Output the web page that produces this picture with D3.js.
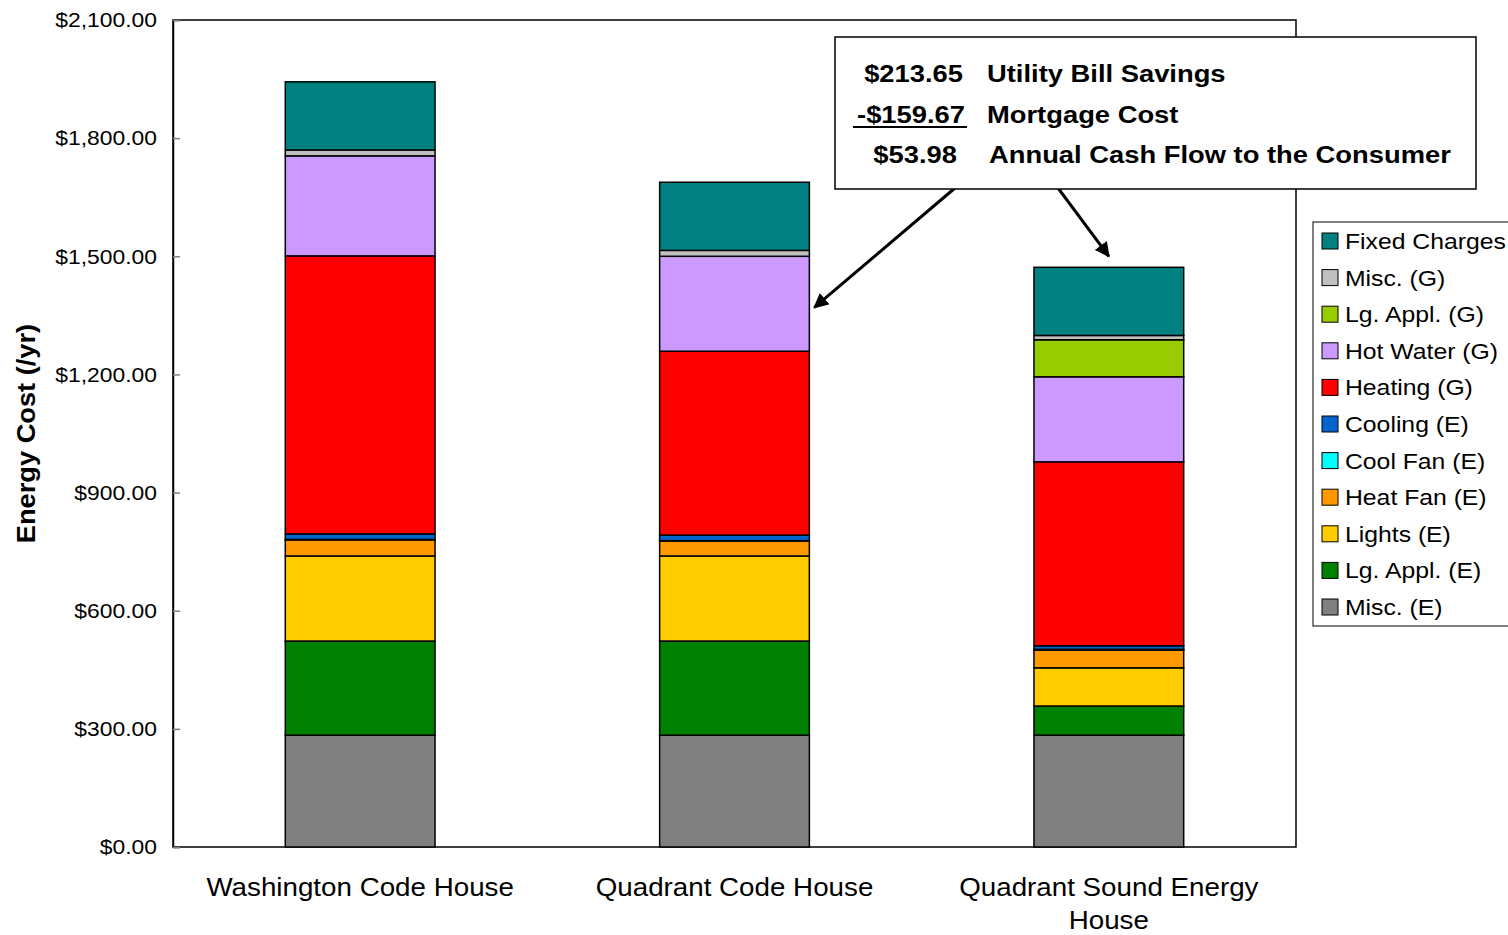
<!DOCTYPE html>
<html>
<head>
<meta charset="utf-8">
<script src="https://cdn.jsdelivr.net/npm/d3@7"></script>
<style>
  body { margin: 0; background: #fff; }
  svg { font-family: "Liberation Sans", Arial, sans-serif; }
</style>
</head>
<body>
<svg id="chart" width="1508" height="935"></svg>
<script>
// categories (houses)
const houses = ['Washington Code House', 'Quadrant Code House', 'Quadrant Sound Energy House'];

// series, bottom of stack first
const seriesNames = ['Misc. (E)', 'Lg. Appl. (E)', 'Lights (E)', 'Heat Fan (E)', 'Cool Fan (E)',
    'Cooling (E)', 'Heating (G)', 'Hot Water (G)', 'Lg. Appl. (G)', 'Misc. (G)', 'Fixed Charges'];
const seriesColors = ['#808080', '#008000', '#FFCC00', '#FF9900', '#00FFFF',
    '#0066CC', '#FF0000', '#CC99FF', '#99CC00', '#C0C0C0', '#008080'];

// values per series, one per house ($/yr)
const miscE = [284, 284, 284];
const lgApplE = [239, 239, 74];
const lightsE = [216, 216, 97];
const heatFanE = [41, 38, 45];
const coolFanE = [1, 1, 2];
const coolingE = [14, 14, 9];
const heatingG = [706, 467, 467];
const hotWaterG = [254, 241, 216];
const lgApplG = [0, 0, 94];
const miscG = [15, 15, 11];
const fixedCharges = [173, 173, 173];

const yTicks = [0, 300, 600, 900, 1200, 1500, 1800, 2100];

// callout text
const calloutValues = ['$213.65', '-$159.67', '$53.98'];
const calloutLabels = ['Utility Bill Savings', 'Mortgage Cost', 'Annual Cash Flow to the Consumer'];

const allSeries = [miscE, lgApplE, lightsE, heatFanE, coolFanE, coolingE,
    heatingG, hotWaterG, lgApplG, miscG, fixedCharges];

const table = houses.map((h, i) => {
    const row = {house: h};
    seriesNames.forEach((s, j) => row[s] = allSeries[j][i]);
    return row;
});

// the original text is drawn a bit wider than Arial, so stretch it sideways
function stretch(sel, k, rot) {
    sel.each(function() {
        const t = d3.select(this);
        const tx = +t.attr('x') || 0, ty = +t.attr('y') || 0;
        t.attr('x', 0).attr('y', 0)
            .attr('transform', `translate(${tx},${ty})${rot ? ' rotate(' + rot + ')' : ''} scale(${k},1)`);
    });
}

const margin = {top: 20, right: 212, bottom: 88, left: 173};
const width = 1508 - margin.left - margin.right;
const height = 935 - margin.top - margin.bottom;

const svg = d3.select('#chart');
const g = svg.append('g').attr('transform', `translate(${margin.left},${margin.top})`);

const x = d3.scaleBand().domain(houses).range([0, width]).paddingInner(0.6).paddingOuter(0.3);
const y = d3.scaleLinear().domain([0, 2100]).range([height, 0]);
const color = d3.scaleOrdinal().domain(seriesNames).range(seriesColors);

const stacked = d3.stack().keys(seriesNames)(table);

// plot frame
g.append('rect')
    .attr('width', width).attr('height', height)
    .attr('fill', 'none').attr('stroke', '#000').attr('stroke-width', 1.5);

// y axis with inward ticks
const yAxis = g.append('g')
    .call(d3.axisLeft(y).tickValues(yTicks).tickSize(-7).tickPadding(16)
        .tickFormat(d => '$' + d3.format(',.2f')(d)));
yAxis.select('.domain').attr('stroke', '#000').attr('stroke-width', 1.5);
yAxis.selectAll('.tick line').attr('stroke', '#808080').attr('stroke-width', 1.5);
yAxis.selectAll('.tick text').attr('font-size', 21).attr('fill', '#000')
    .call(stretch, 1.09);

// bars
g.selectAll('.series')
    .data(stacked)
    .join('g')
    .attr('class', 'series')
    .attr('fill', d => color(d.key))
    .selectAll('rect')
    .data(d => d)
    .join('rect')
    .attr('x', d => x(d.data.house))
    .attr('width', x.bandwidth())
    .attr('y', d => y(d[1]))
    .attr('height', d => y(d[0]) - y(d[1]))
    .attr('stroke', '#000')
    .attr('stroke-width', 1.5);

// x category labels
const xLabels = g.append('g');
houses.forEach(h => {
    const lines = h === houses[2] ? ['Quadrant Sound Energy', 'House'] : [h];
    lines.forEach((w, i) => xLabels.append('text')
        .attr('x', x(h) + x.bandwidth() / 2)
        .attr('y', height + 49 + i * 33)
        .attr('text-anchor', 'middle')
        .attr('font-size', 25)
        .text(w)
        .call(stretch, 1.11));
});

// y axis title
svg.append('text')
    .attr('x', 35).attr('y', margin.top + height / 2)
    .attr('text-anchor', 'middle')
    .attr('font-size', 25)
    .attr('font-weight', 'bold')
    .text('Energy Cost (/yr)')
    .call(stretch, 1.09, -90);

// legend
const legendOrder = seriesNames.slice().reverse();
const legend = svg.append('g').attr('transform', 'translate(1313,222)');
legend.append('rect')
    .attr('width', 200).attr('height', 404)
    .attr('fill', '#fff').attr('stroke', '#000').attr('stroke-width', 1);
legendOrder.forEach((name, i) => {
    const row = legend.append('g').attr('transform', `translate(9,${19 + i * 36.6})`);
    row.append('rect')
        .attr('x', 0).attr('y', -8).attr('width', 16).attr('height', 16)
        .attr('fill', color(name)).attr('stroke', '#000').attr('stroke-width', 1);
    row.append('text')
        .attr('x', 23).attr('y', 8)
        .attr('font-size', 22.5)
        .text(name)
        .call(stretch, 1.1);
});

// arrows
svg.append('defs').append('marker')
    .attr('id', 'arrow')
    .attr('viewBox', '0 0 10 10')
    .attr('refX', 9).attr('refY', 5)
    .attr('markerWidth', 5).attr('markerHeight', 5)
    .attr('orient', 'auto')
    .append('path').attr('d', 'M0,0 L10,5 L0,10 z').attr('fill', '#000');

const arrows = [
    {x1: 955, y1: 188, x2: margin.left + x(houses[1]) + x.bandwidth() + 5, y2: margin.top + y(1370)},
    {x1: 1058, y1: 188, x2: margin.left + x(houses[2]) + x.bandwidth() / 2, y2: margin.top + y(1500)}
];
svg.selectAll('.arrow')
    .data(arrows)
    .join('line')
    .attr('class', 'arrow')
    .attr('x1', d => d.x1).attr('y1', d => d.y1)
    .attr('x2', d => d.x2).attr('y2', d => d.y2)
    .attr('stroke', '#000').attr('stroke-width', 3)
    .attr('marker-end', 'url(#arrow)');

// callout box
const callout = svg.append('g').attr('transform', 'translate(835,37)');
callout.append('rect')
    .attr('width', 641).attr('height', 152)
    .attr('fill', '#fff').attr('stroke', '#000').attr('stroke-width', 1.5);
calloutValues.forEach((v, i) => {
    callout.append('text')
        .attr('x', i === 2 ? 122 : i === 1 ? 130 : 128)
        .attr('y', 45 + i * 40.5)
        .attr('text-anchor', 'end')
        .attr('font-size', 24).attr('font-weight', 'bold')
        .text(v)
        .call(stretch, 1.14);
    callout.append('text')
        .attr('x', i === 2 ? 154 : 152)
        .attr('y', 45 + i * 40.5)
        .attr('font-size', 24).attr('font-weight', 'bold')
        .text(calloutLabels[i])
        .call(stretch, 1.14);
});
callout.append('line')
    .attr('x1', 18).attr('x2', 132).attr('y1', 90).attr('y2', 90)
    .attr('stroke', '#000').attr('stroke-width', 2);
</script>
</body>
</html>
